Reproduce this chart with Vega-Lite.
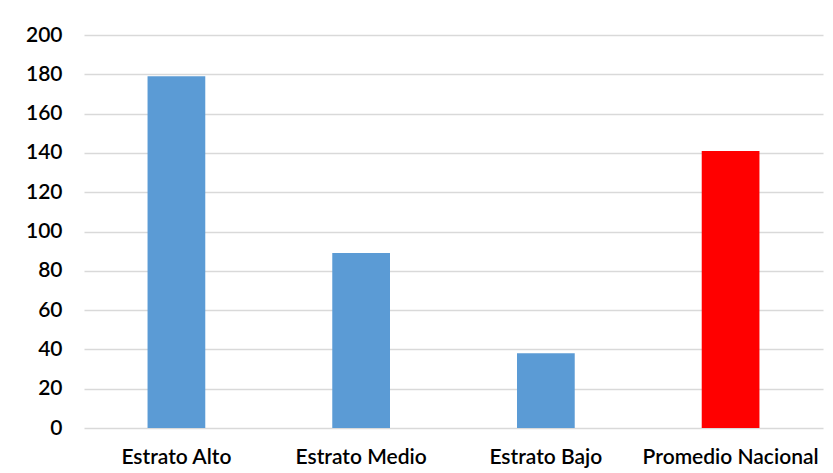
{
  "$schema": "https://vega.github.io/schema/vega-lite/v6.json",
  "autosize": "none",
  "width": 739,
  "height": 393,
  "padding": {"left": 84, "top": 35, "right": 10, "bottom": 45},
  "background": "white",
  "config": {
    "view": {"stroke": null},
    "font": "Lato",
    "axis": {"labelFont": "Lato", "labelColor": "#000000", "labelFontSize": 21, "labelFontWeight": 600}
  },
  "data": {
    "values": [
      {"estrato": "Estrato Alto", "valor": 179, "tipo": "estrato"},
      {"estrato": "Estrato Medio", "valor": 89, "tipo": "estrato"},
      {"estrato": "Estrato Bajo", "valor": 38, "tipo": "estrato"},
      {"estrato": "Promedio Nacional", "valor": 141, "tipo": "nacional"}
    ]
  },
  "mark": {"type": "bar"},
  "encoding": {
    "x": {
      "field": "estrato",
      "type": "nominal",
      "sort": null,
      "scale": {"paddingInner": 0.6875, "paddingOuter": 0.344},
      "axis": {
        "title": null,
        "labelAngle": 0,
        "domain": false,
        "ticks": false,
        "labelPadding": 18
      }
    },
    "y": {
      "field": "valor",
      "type": "quantitative",
      "scale": {"domain": [0, 200], "nice": false},
      "axis": {
        "title": null,
        "values": [0, 20, 40, 60, 80, 100, 120, 140, 160, 180, 200],
        "domain": false,
        "ticks": false,
        "labelPadding": 22,
        "gridColor": "#D9D9D9",
        "gridWidth": 1.5
      }
    },
    "color": {
      "field": "tipo",
      "type": "nominal",
      "scale": {"domain": ["estrato", "nacional"], "range": ["#5B9BD5", "#FF0000"]},
      "legend": null
    }
  }
}
